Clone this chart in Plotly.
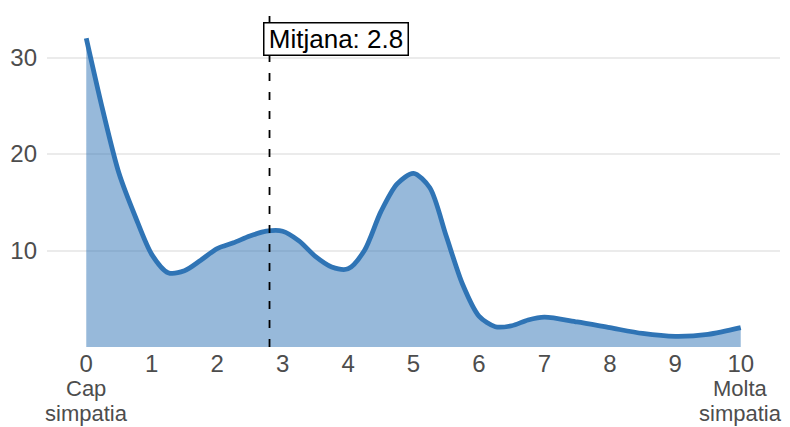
import plotly.graph_objects as go

# Density of "simpatia" scores (0-10)
x_vals = [0, 0.25, 0.5, 0.75, 1, 1.25, 1.5, 1.75, 2, 2.25, 2.5, 2.75, 3, 3.25, 3.5,
          3.75, 4, 4.25, 4.5, 4.75, 5, 5.25, 5.5, 5.75, 6, 6.25, 6.5, 6.75, 7, 7.5,
          8, 8.5, 9, 9.5, 10]
y_vals = [32.0, 24.6, 18.0, 13.5, 9.6, 7.7, 7.9, 9.0, 10.2, 10.8, 11.5, 12.0, 12.0,
          11.0, 9.4, 8.3, 8.1, 10.0, 14.0, 16.9, 18.0, 16.5, 11.5, 6.5, 3.2, 2.1,
          2.2, 2.8, 3.1, 2.6, 2.0, 1.4, 1.1, 1.3, 2.0]

mean_value = 2.8
mean_label = "Mitjana: 2.8"

x_ticks = list(range(0, 11))
x_ticktext = [str(v) for v in x_ticks]
y_ticks = [10, 20, 30]
left_label = ["Cap", "simpatia"]
right_label = ["Molta", "simpatia"]

LINE = "#2f74b5"
FILL = "rgba(47,116,181,0.5)"
TXT = "#4d4d4d"
FONT = "Liberation Sans, Arial, sans-serif"

fig = go.Figure()
fig.add_trace(go.Scatter(
    x=x_vals, y=y_vals, mode="lines",
    line=dict(color=LINE, width=4.8, shape="spline", smoothing=0.8),
    fill="tozeroy", fillcolor=FILL, hoverinfo="skip", showlegend=False,
))

fig.add_shape(type="line", x0=mean_value, x1=mean_value, xref="x",
              y0=0, y1=1, yref="paper",
              line=dict(color="black", width=1.8, dash="8px,11px"))

fig.add_annotation(x=mean_value, y=31.9, xref="x", yref="y", text=mean_label,
                   showarrow=False, xanchor="left", yanchor="middle", xshift=-7,
                   width=140, height=28, align="center", valign="middle",
                   font=dict(family=FONT, size=26, color="black"),
                   bgcolor="white", bordercolor="black", borderwidth=1.5, borderpad=1.5)

for i, t in enumerate(left_label):
    fig.add_annotation(x=x_ticks[0], y=0, xref="x", yref="paper", text=t,
                       showarrow=False, xanchor="center", yanchor="top",
                       yshift=-28 - 25 * i, borderpad=0,
                       font=dict(family=FONT, size=22, color=TXT))
for i, t in enumerate(right_label):
    fig.add_annotation(x=x_ticks[-1], y=0, xref="x", yref="paper", text=t,
                       showarrow=False, xanchor="center", yanchor="top",
                       yshift=-28 - 25 * i, borderpad=0,
                       font=dict(family=FONT, size=22, color=TXT))

fig.update_layout(
    width=782, height=419,
    margin=dict(l=39, r=10, t=1, b=80),
    paper_bgcolor="white", plot_bgcolor="white",
    font=dict(family=FONT, size=24, color=TXT),
    xaxis=dict(range=[-0.6, 10.6], tickvals=x_ticks, ticktext=x_ticktext,
               showgrid=False, zeroline=False, showline=False, ticks="",
               tickfont=dict(size=24, color=TXT)),
    yaxis=dict(range=[0, 35.03], tickvals=y_ticks, showgrid=True,
               gridcolor="#ebebeb", gridwidth=1.5, zeroline=False,
               showline=False, ticks="", ticklabelstandoff=9,
               tickfont=dict(size=24, color=TXT)),
)

fig.write_html("out.html")
